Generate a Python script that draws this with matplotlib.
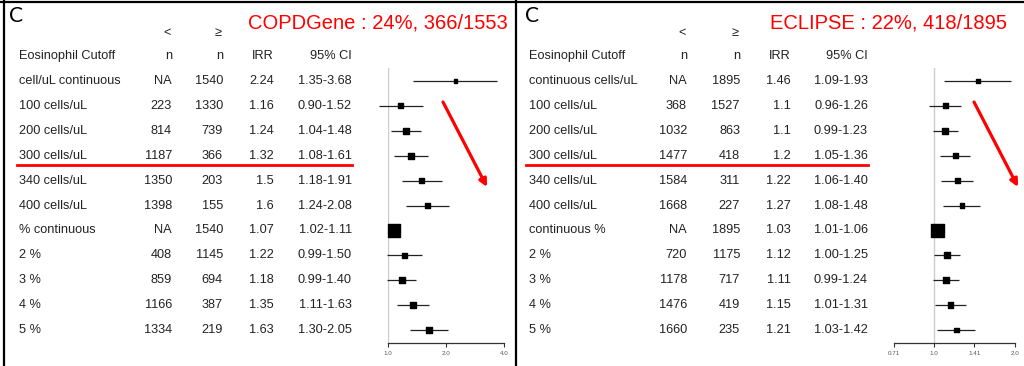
import numpy as np
import matplotlib.pyplot as plt
from matplotlib import transforms
from matplotlib.lines import Line2D

plt.rcParams['font.family'] = ['Liberation Sans', 'DejaVu Sans']

W, H = 1024, 366

# COPDGene
copd_labels = ['cell/uL continuous', '100 cells/uL', '200 cells/uL', '300 cells/uL',
               '340 cells/uL', '400 cells/uL', '% continuous', '2 %', '3 %', '4 %', '5 %']
copd_n_below = ['NA', 223, 814, 1187, 1350, 1398, 'NA', 408, 859, 1166, 1334]
copd_n_above = [1540, 1330, 739, 366, 203, 155, 1540, 1145, 694, 387, 219]
copd_irr = [2.24, 1.16, 1.24, 1.32, 1.5, 1.6, 1.07, 1.22, 1.18, 1.35, 1.63]
copd_lo = [1.35, 0.90, 1.04, 1.08, 1.18, 1.24, 1.02, 0.99, 0.99, 1.11, 1.30]
copd_hi = [3.68, 1.52, 1.48, 1.61, 1.91, 2.08, 1.11, 1.50, 1.40, 1.63, 2.05]
copd_ticks = [1.0, 2.0, 4.0]
copd_ticklabels = ['1.0', '2.0', '4.0']
copd_title = 'COPDGene : 24%, 366/1553'

# ECLIPSE
ecl_labels = ['continuous cells/uL', '100 cells/uL', '200 cells/uL', '300 cells/uL',
              '340 cells/uL', '400 cells/uL', 'continuous %', '2 %', '3 %', '4 %', '5 %']
ecl_n_below = ['NA', 368, 1032, 1477, 1584, 1668, 'NA', 720, 1178, 1476, 1660]
ecl_n_above = [1895, 1527, 863, 418, 311, 227, 1895, 1175, 717, 419, 235]
ecl_irr = [1.46, 1.1, 1.1, 1.2, 1.22, 1.27, 1.03, 1.12, 1.11, 1.15, 1.21]
ecl_lo = [1.09, 0.96, 0.99, 1.05, 1.06, 1.08, 1.01, 1.00, 0.99, 1.01, 1.03]
ecl_hi = [1.93, 1.26, 1.23, 1.36, 1.40, 1.48, 1.06, 1.25, 1.24, 1.31, 1.42]
ecl_ticks = [0.71, 1.0, 1.41, 2.0]
ecl_ticklabels = ['0.71', '1.0', '1.41', '2.0']
ecl_title = 'ECLIPSE : 22%, 418/1895'

fig = plt.figure(figsize=(W / 100, H / 100), dpi=100)


def fx(x):
    return x / W


def fy(y):
    return 1 - y / H


def panel(x0, labels, n_below, n_above, irr, lo, hi, ticks, ticklabels, title,
          col_x, ax_x, title_x, uline_x):
    nrow = len(labels)
    # forest plot area, log scale on the ratio
    ax = fig.add_axes([fx(ax_x[0]), fy(343), fx(ax_x[1] - ax_x[0]), (343 - 68) / H])
    ax.set_xscale('log')
    ax.set_xlim(ticks[0], ticks[-1])
    ax.set_ylim(nrow - 1 + 0.52, -0.52)
    for s in ['top', 'right', 'left']:
        ax.spines[s].set_visible(False)
    ax.spines['bottom'].set_linewidth(0.9)
    ax.spines['bottom'].set_color('#333333')
    ax.set_yticks([])
    ax.set_xticks(ticks)
    ax.set_xticklabels(ticklabels)
    ax.xaxis.set_minor_locator(plt.NullLocator())
    ax.tick_params(axis='x', length=3, width=0.8, color='#333333', labelsize=4.5,
                   labelcolor='#555555', pad=3)
    ax.patch.set_alpha(0)
    ax.axvline(1.0, color='#cccccc', lw=1, zorder=0)

    rows = np.arange(nrow)
    se = (np.log(hi) - np.log(lo)) / 3.92
    w = se.min() / se
    ax.hlines(rows, lo, hi, color='#222222', lw=0.9, clip_on=False)
    ax.scatter(irr, rows, s=78 * w, marker='s', color='black', zorder=3, clip_on=False)

    # table columns share the forest rows
    tr = transforms.blended_transform_factory(fig.transFigure, ax.transData)
    kw = dict(transform=tr, fontsize=9.2, color='#222222', va='center')
    fig.text(fx(col_x[0]), -1, 'Eosinophil Cutoff', ha='left', **kw)
    fig.text(fx(col_x[1]), -1, 'n', ha='right', **kw)
    fig.text(fx(col_x[2]), -1, 'n', ha='right', **kw)
    fig.text(fx(col_x[3]), -1, 'IRR', ha='right', **kw)
    fig.text(fx(col_x[4]), -1, '95% CI', ha='right', **kw)
    fig.text(fx(col_x[1] - 1), -1.92, '<', ha='right', **kw)
    fig.text(fx(col_x[2] - 1), -1.92, '≥', ha='right', **kw)
    for i in range(nrow):
        fig.text(fx(col_x[0]), i, labels[i], ha='left', **kw)
        fig.text(fx(col_x[1]), i, str(n_below[i]), ha='right', **kw)
        fig.text(fx(col_x[2]), i, str(n_above[i]), ha='right', **kw)
        fig.text(fx(col_x[3]), i, str(irr[i]), ha='right', **kw)
        fig.text(fx(col_x[4]), i, '%.2f-%.2f' % (lo[i], hi[i]), ha='right', **kw)

    fig.text(fx(x0 + 9), fy(16), 'C', fontsize=15, family='Lato', ha='left', va='center')
    fig.text(fx(title_x), fy(23), title, fontsize=14.5, color='red', ha='right', va='center')

    # highlight the 300 cells/uL row
    fig.add_artist(Line2D([fx(uline_x[0]), fx(uline_x[1])], [fy(164.5), fy(164.5)],
                          color='red', lw=2, transform=fig.transFigure))
    ax.annotate('', xy=(uline_x[2] + 44, H - 187), xytext=(uline_x[2], H - 102),
                xycoords='figure pixels', textcoords='figure pixels',
                arrowprops=dict(arrowstyle='-|>', color='red', lw=2.3,
                                mutation_scale=11, shrinkA=0, shrinkB=0))


panel(0, copd_labels, copd_n_below, copd_n_above, copd_irr, copd_lo, copd_hi,
      copd_ticks, copd_ticklabels, copd_title,
      [19, 172, 223, 274, 352], (388, 504), 508, (17, 352, 443))
panel(516, ecl_labels, ecl_n_below, ecl_n_above, ecl_irr, ecl_lo, ecl_hi,
      ecl_ticks, ecl_ticklabels, ecl_title,
      [529, 687, 740, 791, 868], (894, 1015), 1007, (526, 868, 974))

# panel frames
for xs, ys in [([0, 1], [fy(2), fy(2)]), ([fx(4), fx(4)], [0, 1]),
               ([fx(516), fx(516)], [0, 1])]:
    fig.add_artist(Line2D(xs, ys, color='black', lw=1.6, transform=fig.transFigure))

plt.savefig('out.png', dpi=100)
